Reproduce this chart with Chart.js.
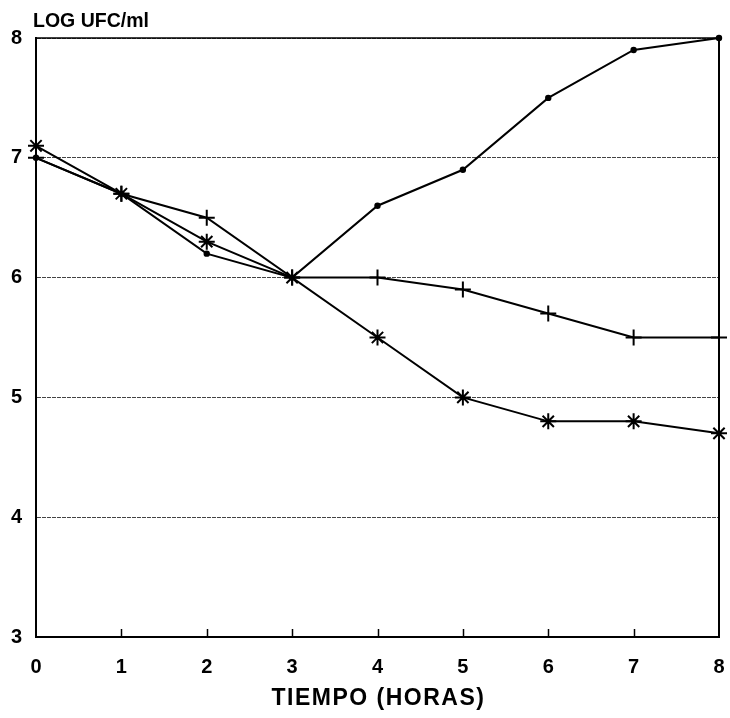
<!DOCTYPE html>
<html>
<head>
<meta charset="utf-8">
<script src="https://cdn.jsdelivr.net/npm/chart.js@4/dist/chart.umd.min.js"></script>
<style>
  html, body { margin: 0; padding: 0; background: #fff; }
  #wrap { position: relative; width: 730px; height: 718px; }
</style>
</head>
<body>
<div id="wrap"><canvas id="c" width="730" height="718"></canvas></div>
<script>
// Time in hours
const horas = [0, 1, 2, 3, 4, 5, 6, 7, 8];
// log CFU/ml for each culture
const serieA = [7.0, 6.7, 6.2, 6.0, 6.6, 6.9, 7.5, 7.9, 8.0];   // small dots
const serieB = [7.0, 6.7, 6.5, 6.0, 6.0, 5.9, 5.7, 5.5, 5.5];   // crosses
const serieC = [7.1, 6.7, 6.3, 6.0, 5.5, 5.0, 4.8, 4.8, 4.7];   // asterisks
const yTicks = [3, 4, 5, 6, 7, 8];
const xTicks = [0, 1, 2, 3, 4, 5, 6, 7, 8];
const yTitle = 'LOG UFC/ml';
const xTitle = 'TIEMPO (HORAS)';

const FONT = "'Liberation Sans', Arial, Helvetica, sans-serif";

const pts = arr => horas.map((h, i) => ({ x: h, y: arr[i] }));

// top and right frame, inward tick marks on the time axis and the two axis captions
const framePlugin = {
  id: 'frame',
  beforeDatasetsDraw(chart) {
    const { ctx, chartArea: a, scales } = chart;
    ctx.save();
    ctx.strokeStyle = '#000';
    ctx.lineWidth = 1.5;
    const py = scales.y.getPixelForValue(yTicks[yTicks.length - 1]);
    ctx.beginPath();
    ctx.moveTo(a.left, py);
    ctx.lineTo(a.right, py);
    ctx.stroke();
    ctx.restore();
  },
  afterDraw(chart) {
    const { ctx, chartArea: a, scales } = chart;
    ctx.save();
    ctx.strokeStyle = '#000';
    ctx.lineWidth = 2;
    ctx.beginPath();
    ctx.moveTo(a.right, a.top);
    ctx.lineTo(a.right, a.bottom);
    ctx.stroke();
    ctx.lineWidth = 1.5;
    xTicks.slice(1, -1).forEach(v => {
      const px = Math.round(scales.x.getPixelForValue(v)) + 0.5;
      ctx.beginPath();
      ctx.moveTo(px, a.bottom);
      ctx.lineTo(px, a.bottom - 8);
      ctx.stroke();
    });
    ctx.fillStyle = '#000';
    ctx.textBaseline = 'alphabetic';
    ctx.font = 'bold 19.5px ' + FONT;
    ctx.textAlign = 'left';
    ctx.fillText(yTitle, 33, 27);
    ctx.font = 'bold 23px ' + FONT;
    ctx.letterSpacing = '1.5px';
    ctx.textAlign = 'center';
    ctx.fillText(xTitle, (a.left + a.right) / 2 + 1, 705);
    ctx.restore();
  }
};

const line = (data, style, radius) => ({
  data: pts(data),
  borderColor: '#000',
  backgroundColor: '#000',
  borderWidth: 2,
  pointStyle: style,
  pointRadius: radius,
  pointBorderWidth: 2,
  pointBorderColor: '#000',
  pointBackgroundColor: '#000',
  tension: 0,
  clip: false
});

new Chart(document.getElementById('c'), {
  type: 'line',
  data: {
    datasets: [
      line(serieA, 'circle', 2.2),
      line(serieB, 'cross', 8),
      line(serieC, 'star', 8)
    ]
  },
  options: {
    responsive: false,
    animation: false,
    devicePixelRatio: 1,
    layout: { padding: { top: 38, right: 0, left: 0, bottom: 0 } },
    plugins: { legend: { display: false }, tooltip: { enabled: false } },
    scales: {
      x: {
        type: 'linear',
        min: 0, max: 8,
        afterFit(s) { s.height = 81; s.paddingRight = 11; s.paddingLeft = 0; },
        afterBuildTicks(s) { s.ticks = xTicks.map(v => ({ value: v })); },
        ticks: {
          color: '#000',
          font: { family: FONT, size: 20, weight: 'bold' },
          padding: 18,
          maxRotation: 0
        },
        grid: { drawOnChartArea: false, drawTicks: false },
        border: { display: true, color: '#000', width: 2 },
        title: { display: false }
      },
      y: {
        min: 3, max: 8,
        afterFit(s) { s.width = 36; },
        afterBuildTicks(s) { s.ticks = yTicks.map(v => ({ value: v })); },
        ticks: {
          color: '#000',
          font: { family: FONT, size: 20, weight: 'bold' },
          padding: 14
        },
        grid: {
          drawTicks: false,
          color: '#444',
          lineWidth: 1
        },
        border: { display: true, color: '#000', width: 2, dash: [4, 1] }
      }
    }
  },
  plugins: [framePlugin]
});
</script>
</body>
</html>
